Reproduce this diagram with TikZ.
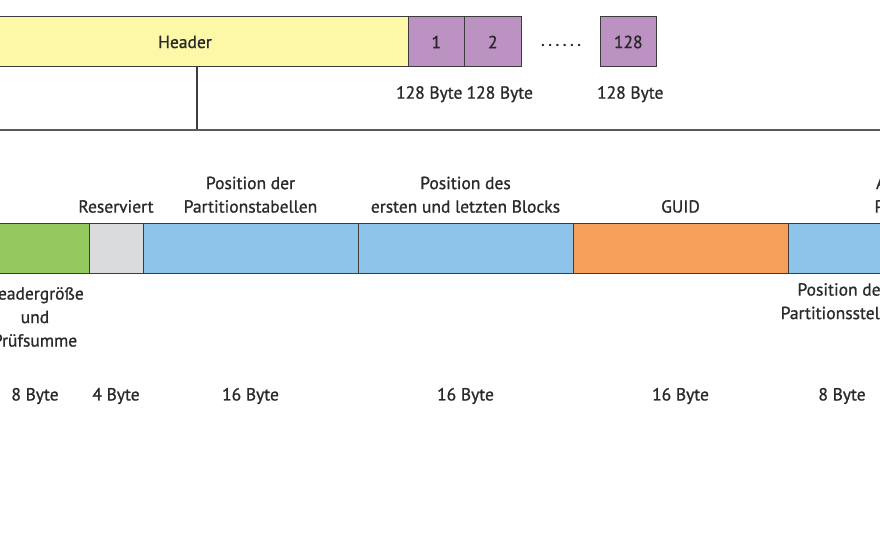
\documentclass[tikz,border=0pt]{standalone}
\usepackage{fontspec}
\setmainfont{PT Sans}[FakeBold=1.0]
\usetikzlibrary{positioning}

\definecolor{hdrYellow}{HTML}{FDF7A8}
\definecolor{entPurple}{HTML}{BC92C3}
\definecolor{fldGreen}{HTML}{93C95E}
\definecolor{fldGray}{HTML}{DADBDC}
\definecolor{fldBlue}{HTML}{8EC3EA}
\definecolor{fldOrange}{HTML}{F59F5A}
\definecolor{lineDark}{HTML}{3C3C3C}
\definecolor{txtDark}{HTML}{2A2A2A}

\begin{document}
\begin{tikzpicture}[
    x=1pt, y=-1pt,
    % Styles
    field/.style={draw=lineDark, rectangle, line width=1pt, inner sep=0pt, outer sep=0pt, minimum height=50pt, anchor=north west, font=\fontsize{17.5}{19}\selectfont, text=txtDark},
    entry/.style={field, fill=entPurple, minimum width=56.5pt},
    lbl/.style={align=center, font=\fontsize{17.5}{23.5}\selectfont, text=txtDark, inner sep=0pt},
    size/.style={font=\fontsize{17.5}{19}\selectfont, text=txtDark, inner sep=0pt}
    ]
    \useasboundingbox (0,0) rectangle (880,540);
    \clip (0,0) rectangle (880,540);

    % 1. Header with partition entries
    \node (header) [field, fill=hdrYellow, minimum width=446pt] at (-38,17) {Header};
    \node (e1) [entry, right=0pt of header.north east, anchor=north west] {1};
    \node (e2) [entry, right=0pt of e1.north east, anchor=north west] {2};
    \node (dots) [size] at (561,45) {.\kern3.5pt.\kern3.5pt.\kern3.5pt.\kern3.5pt.\kern3.5pt.};
    \node (e128) [entry] at (600,17) {128};

    \node (s1) [size, below=19pt of e1.south, xshift=-7pt] {128 Byte};
    \node (s2) [size, below=19pt of e2.south, xshift=7pt] {128 Byte};
    \node (s128) [size, below=19pt of e128.south, xshift=2pt] {128 Byte};

    % Bracket from header down to the detail row
    \coordinate (brL) at (-10,130);
    \coordinate (brR) at (890,130);
    \coordinate (brM) at (197,130);
    \draw[lineDark, line width=1.2pt] (header.south -| brM) -- (brM);
    \draw[lineDark!85, line width=2.2pt] (brL) -- (brR);

    % 2. Header fields
    \node (fsize) [field, fill=fldGreen, minimum width=108pt] at (-19,223) {};
    \node (fres) [field, fill=fldGray, minimum width=54pt, right=0pt of fsize.north east, anchor=north west] {};
    \node (fptab) [field, fill=fldBlue, minimum width=215pt, right=0pt of fres.north east, anchor=north west] {};
    \node (fblk) [field, fill=fldBlue, minimum width=215pt, right=0pt of fptab.north east, anchor=north west] {};
    \node (fguid) [field, fill=fldOrange, minimum width=215pt, right=0pt of fblk.north east, anchor=north west] {};
    \node (fpos) [field, fill=fldBlue, minimum width=108pt, right=0pt of fguid.north east, anchor=north west] {};

    % Labels above the fields
    \node (lres) [lbl, above=10pt of fres.north] {Reserviert};
    \node (lptab) [lbl, above=10pt of fptab.north] {Position der\\Partitionstabellen};
    \node (lblk) [lbl, above=10pt of fblk.north] {Position des\\ersten und letzten Blocks};
    \node (lguid) [lbl, above=10pt of fguid.north] {GUID};
    \node (lnum) [lbl, above=10pt of fpos.north east, xshift=20pt] {Anzahl der\\Partitionen};

    % Labels below the fields
    \node (lsize) [lbl, below=14pt of fsize.south] {Headergröße\\und\\Prüfsumme};
    \node (lpos) [lbl, below=10pt of fpos.south] {Position der\\Partitionsstellen};

    % Sizes
    \coordinate (bytes) at (0,396);
    \node (b1) [size] at (fsize |- bytes) {8 Byte};
    \node (b2) [size] at (fres |- bytes) {4 Byte};
    \node (b3) [size] at (fptab |- bytes) {16 Byte};
    \node (b4) [size] at (fblk |- bytes) {16 Byte};
    \node (b5) [size] at (fguid |- bytes) {16 Byte};
    \node (b6) [size] at (fpos |- bytes) {8 Byte};
\end{tikzpicture}
\end{document}
